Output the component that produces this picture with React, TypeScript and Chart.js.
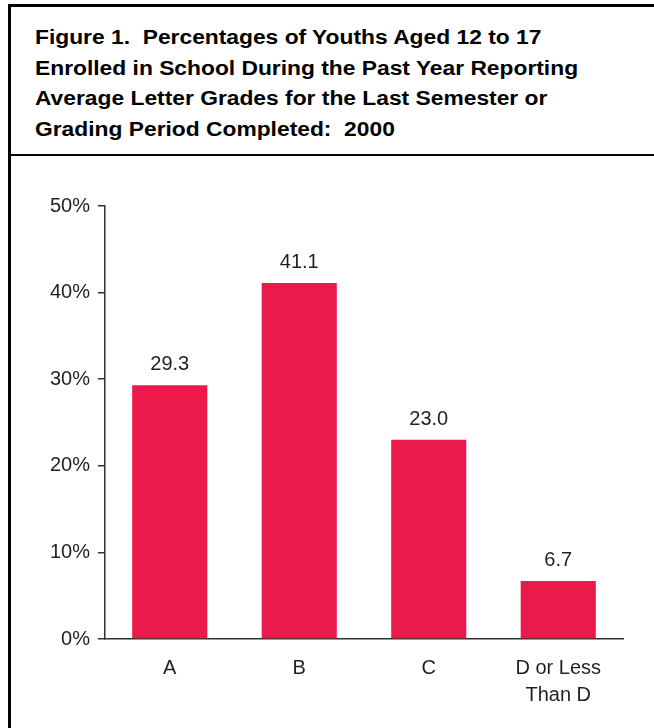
import React, { useEffect, useRef } from "react";
import { Chart, registerables } from "chart.js";

Chart.register(...registerables);

const titleLines = [
  "Figure 1.  Percentages of Youths Aged 12 to 17",
  "Enrolled in School During the Past Year Reporting",
  "Average Letter Grades for the Last Semester or",
  "Grading Period Completed:  2000",
];
const categories: (string | string[])[] = ["A", "B", "C", ["D or Less", "Than D"]];
const values = [29.3, 41.1, 23.0, 6.7];
const yTicks = [0, 10, 20, 30, 40, 50];

const BAR_COLOR = "#EC1A4C";
const TEXT_COLOR = "#231F20";
const FONT = "'Liberation Sans', Arial, Helvetica, sans-serif";

const valueLabels = {
  id: "valueLabels",
  afterDatasetsDraw(chart: any) {
    const ctx = chart.ctx;
    const meta = chart.getDatasetMeta(0);
    ctx.save();
    ctx.font = `20px ${FONT}`;
    ctx.fillStyle = TEXT_COLOR;
    ctx.textAlign = "center";
    ctx.textBaseline = "alphabetic";
    meta.data.forEach((bar: any, i: number) => {
      ctx.fillText(values[i].toFixed(1), bar.x, bar.y - 15);
    });
    ctx.restore();
  },
};

export default function App() {
  const ref = useRef<HTMLCanvasElement>(null);
  useEffect(() => {
    if (!ref.current) return;
    const chart = new Chart(ref.current, {
      type: "bar",
      data: {
        labels: categories,
        datasets: [
          {
            data: values,
            backgroundColor: BAR_COLOR,
            borderWidth: 0,
            categoryPercentage: 1,
            barPercentage: 0.58,
          },
        ],
      },
      options: {
        responsive: false,
        animation: false,
        devicePixelRatio: 1,
        layout: { padding: { left: 0, right: 31, top: 206, bottom: 0 } },
        plugins: { legend: { display: false }, tooltip: { enabled: false }, title: { display: false } },
        scales: {
          x: {
            grid: { display: false, drawTicks: false },
            border: { display: true, color: "#333", width: 1.5 },
            ticks: {
              color: TEXT_COLOR,
              font: { family: FONT, size: 20, lineHeight: 1.35 },
              padding: 16,
              maxRotation: 0,
              autoSkip: false,
            },
            afterFit: (s: any) => {
              s.height = 89;
            },
          },
          y: {
            min: 0,
            max: 50,
            afterBuildTicks: (s: any) => {
              s.ticks = yTicks.map((v) => ({ value: v }));
            },
            grid: { drawOnChartArea: false, drawTicks: true, tickLength: 7, color: "#333", lineWidth: 1.5 },
            border: { display: true, color: "#333", width: 1.5 },
            ticks: {
              color: TEXT_COLOR,
              font: { family: FONT, size: 20 },
              padding: 8,
              callback: (v: any) => `${v}%`,
            },
            afterFit: (s: any) => {
              s.width = 105;
            },
          },
        },
      },
      plugins: [valueLabels],
    });
    return () => chart.destroy();
  }, []);

  return (
    <div
      style={{
        position: "absolute",
        left: 0,
        top: 0,
        width: 654,
        height: 728,
        overflow: "hidden",
        background: "#fff",
      }}
    >
      <div
        style={{
          position: "absolute",
          left: 8,
          top: 4,
          width: 700,
          height: 800,
          borderLeft: "3px solid #000",
          borderTop: "3px solid #000",
          boxSizing: "border-box",
        }}
      />
      <div style={{ position: "absolute", left: 10, top: 154, width: 700, height: 2, background: "#000" }} />
      <div
        style={{
          position: "absolute",
          left: 35,
          top: 22,
          fontFamily: FONT,
          fontWeight: "bold",
          fontSize: 20,
          lineHeight: "30.5px",
          color: "#000",
          whiteSpace: "nowrap",
          transform: "scaleX(1.14)",
          transformOrigin: "0 0",
        }}
      >
        {titleLines.map((l, i) => (
          <div key={i} style={{ whiteSpace: "pre" }}>{l}</div>
        ))}
      </div>
      <canvas ref={ref} width={654} height={728} style={{ position: "absolute", left: 0, top: 0 }} />
    </div>
  );
}
